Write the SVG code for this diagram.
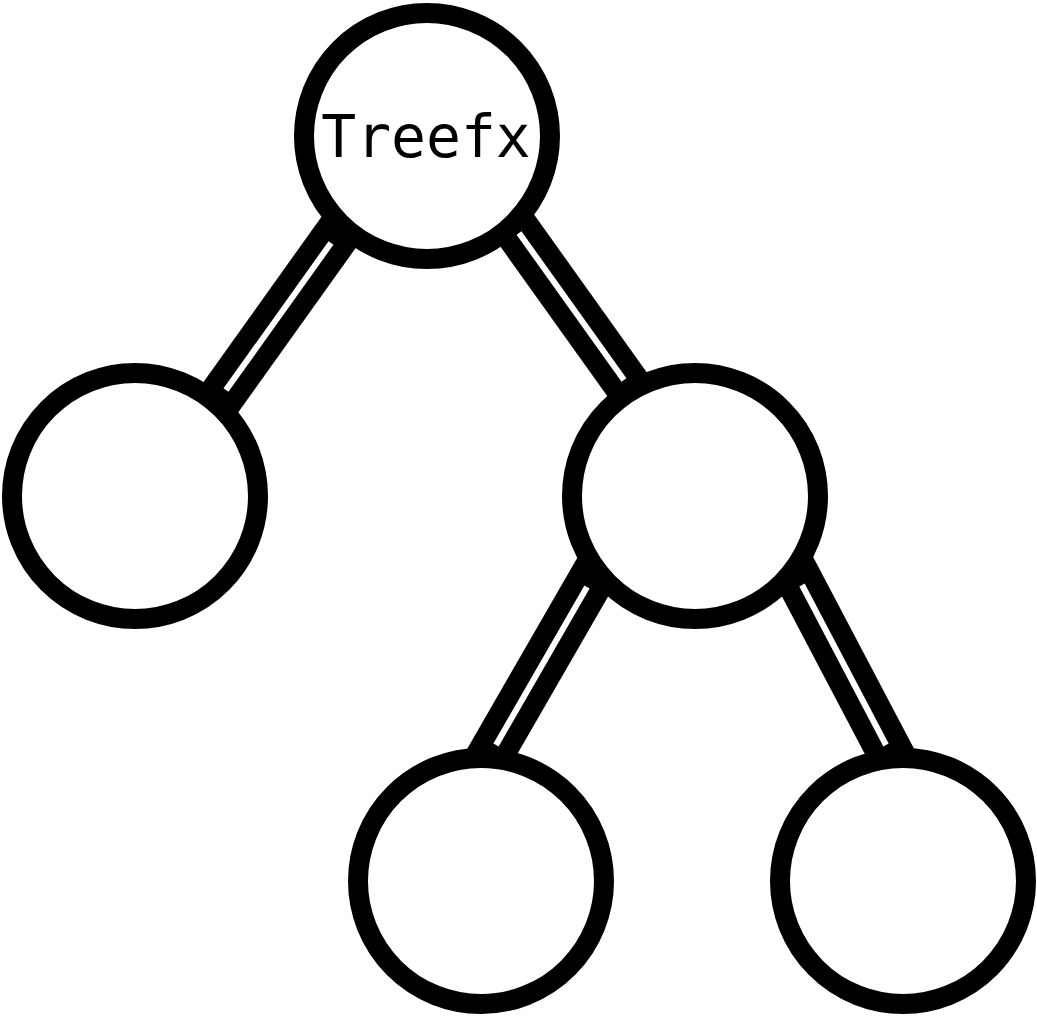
<svg xmlns="http://www.w3.org/2000/svg" width="1037" height="1017" viewBox="0 0 1037 1017">
<style>
.band{stroke:#000;stroke-width:46;stroke-linecap:butt;fill:none}
.inner{stroke:#fff;stroke-width:6;stroke-linecap:butt;fill:none}
.node{fill:#fff;stroke:#000;stroke-width:20}
.lbl{font-family:"DejaVu Sans Mono","Liberation Mono",monospace;font-size:58px;fill:#000}
</style>
<rect width="1037" height="1017" fill="#fff"/>
<g id="connectors">
<line class="band" x1="366" y1="194" x2="191" y2="439"/>
<line class="inner" x1="331" y1="243" x2="226" y2="390"/>
<line class="band" x1="484" y1="184" x2="659" y2="429"/>
<line class="inner" x1="519" y1="233" x2="624" y2="380"/>
<line class="band" x1="617" y1="535" x2="466" y2="797"/>
<line class="inner" x1="587" y1="587" x2="496" y2="745"/>
<line class="band" x1="774" y1="532" x2="914" y2="798"/>
<line class="inner" x1="802" y1="585" x2="886" y2="745"/>
</g>
<g id="root">
<circle class="node" cx="427" cy="136" r="123"/>
<text class="lbl" x="426" y="157" text-anchor="middle">Treefx</text>
</g>
<g id="left"><circle class="node" cx="135" cy="496" r="123"/></g>
<g id="right"><circle class="node" cx="695" cy="496" r="123"/></g>
<g id="right-left"><circle class="node" cx="481" cy="881" r="123"/></g>
<g id="right-right"><circle class="node" cx="903" cy="881" r="123"/></g>
</svg>
